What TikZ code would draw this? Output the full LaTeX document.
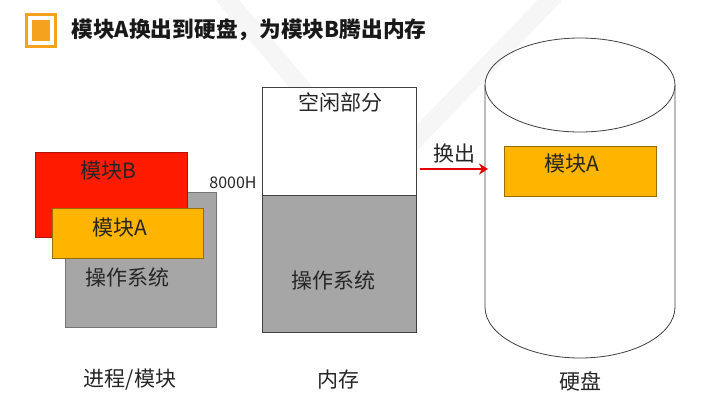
\documentclass[tikz,border=0pt]{standalone}
\usepackage{fontspec}
\setmainfont{Noto Sans CJK SC}
\usetikzlibrary{arrows.meta,positioning}

\definecolor{modred}{HTML}{FF1A00}
\definecolor{modorange}{HTML}{FFB400}
\definecolor{osgray}{HTML}{A6A6A6}
\definecolor{titleorange}{HTML}{F5A31F}

\begin{document}
\begin{tikzpicture}[
	x=1pt, y=-1pt,
	box/.style={draw, line width=0.8pt, inner sep=0pt, anchor=north west},
	lbl/.style={font=\fontsize{21}{21}\selectfont, text=black!85},
	swap/.style={draw=red!90!black, line width=2.6pt, -{Stealth[length=9pt,width=11pt]}}
	]
	\useasboundingbox (0,0) rectangle (719,410);
	
	% watermark
	\draw[gray!7, line width=18pt] (223,-5) -- (378,178) -- (555,-5);
	
	% title
	\draw[titleorange, line width=3pt] (26.5,14.5) rectangle (55.5,46.5);
	\fill[titleorange] (32,20) rectangle (50,41);
	\node[anchor=west, font=\fontsize{21.7}{21.7}\selectfont\bfseries, text=black!90] (title) at (68,30) {模块A换出到硬盘，为模块B腾出内存};
	
	% process / modules
	\node[box, draw=osgray!70!black, fill=osgray, minimum width=151pt, minimum height=135pt] (os1) at (65,192) {};
	\node[box, draw=modred!70!black, fill=modred, minimum width=152pt, minimum height=85pt] (modB) at (35,152) {};
	\node[box, draw=modorange!60!black, fill=modorange, minimum width=151pt, minimum height=50pt] (modA) at (52,208) {};
	\node[lbl] (tB) at (108,171) {模块B};
	\node[lbl] (tA) at (120,228) {模块A};
	\node[lbl] (tOS1) at (127,277) {操作系统};
	\node[font=\fontsize{16}{16}\selectfont, text=black!85] (addr) at (233,183) {8000H};
	
	% memory
	\node[box, draw=black!75, fill=white, minimum width=154pt, minimum height=108pt] (free) at (262,87) {};
	\node[box, draw=black!75, fill=osgray, minimum width=154pt, minimum height=137pt] (os2) at (262,195) {};
	\node[lbl] (tFree) at (340,102) {空闲部分};
	\node[lbl] (tOS2) at (333,280) {操作系统};
	
	% disk
	\draw[black!75, line width=0.8pt, fill=white] (485,85) -- (485,307) arc (180:0:95 and 51) -- (675,85);
	\draw[black!75, line width=0.8pt] (580,85) ellipse (95 and 47);
	\coordinate (disk) at (488,169);
	\node[box, draw=modorange!60!black, fill=modorange, minimum width=152pt, minimum height=50pt] (modA2) at (504,146) {};
	\node[lbl] (tA2) at (572,164) {模块A};
	
	% swap out
	\coordinate (swapstart) at (420,169);
	\draw[swap] (swapstart) -- (disk) node[lbl, midway, above=1pt] (tSwap) {换出};
	
	% captions
	\node[lbl] (cProc) at (130,380) {进程/模块};
	\node[lbl] (cMem) at (338,380) {内存};
	\node[lbl] (cDisk) at (580,381) {硬盘};
\end{tikzpicture}
\end{document}
